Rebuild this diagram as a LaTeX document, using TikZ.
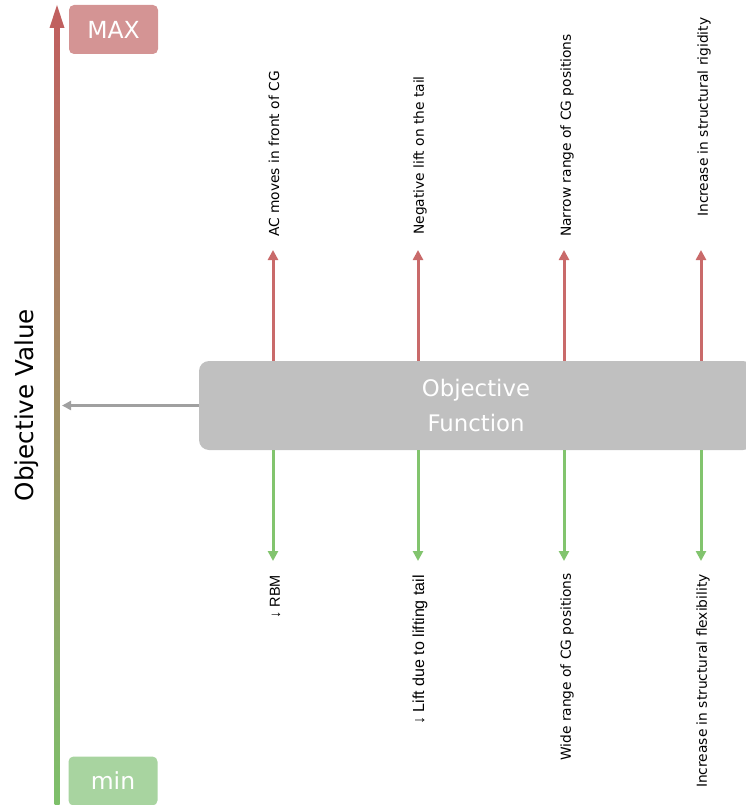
\documentclass[tikz,border=0pt]{standalone}
\usepackage{fontspec}
\setmainfont{DejaVu Sans}
\newfontfamily\arialf{Liberation Sans}
\usetikzlibrary{arrows.meta}
\definecolor{axred}{HTML}{C0605F}
\definecolor{axgreen}{HTML}{7DC06A}
\definecolor{maxfill}{HTML}{D49494}
\definecolor{minfill}{HTML}{A8D4A0}
\definecolor{upred}{HTML}{C96A6A}
\definecolor{downgreen}{HTML}{82C46E}
\definecolor{boxgray}{HTML}{C0C0C0}
\definecolor{arrgray}{HTML}{A0A0A0}
\tikzset{
  tag/.style={rounded corners=5pt, text=white, minimum width=89pt, minimum height=49pt, inner sep=0pt, font=\fontsize{23.5}{28}\selectfont},
  uplbl/.style={rotate=90, anchor=west, inner sep=0pt, font=\fontsize{13.8}{16}\selectfont},
  dnlbl/.style={rotate=90, anchor=east, inner sep=0pt, font=\fontsize{13.8}{16}\selectfont},
  dnlblA/.style={rotate=90, anchor=east, inner sep=0pt, font=\arialf\fontsize{14.5}{16}\selectfont},
  uparrow/.style={draw=upred, line width=3pt, -{Triangle[length=10pt,width=10pt]}},
  dnarrow/.style={draw=downgreen, line width=3pt, -{Triangle[length=10pt,width=10pt]}},
}
\begin{document}
\begin{tikzpicture}[x=1pt,y=-1pt]
\useasboundingbox (0,0) rectangle (745,805);
% axis
\shade[bottom color=axgreen, top color=axred] (54.5,805) rectangle (59.5,26);
\fill[axred] (57,5) -- (64.5,28) -- (49.5,28) -- cycle;
\node[tag, fill=maxfill] (max) at (113.5,29.5) {MAX};
\node[tag, fill=minfill] (min) at (113,781) {min};
\node[rotate=90, inner sep=0pt, font=\fontsize{24.6}{28}\selectfont] (ov) at (27,405) {Objective Value};
% objective function box
\node[fill=boxgray, rounded corners=10pt, minimum width=554pt, minimum height=89pt, inner sep=0pt,
      text=white, align=center, font=\fontsize{22.8}{35}\selectfont] (of) at (476,405.5) {Objective\\Function};
\coordinate (axpt) at (62,405.5);
\draw[draw=arrgray, line width=2.5pt, -{Triangle[length=9pt,width=9pt]}] (of.west) -- (axpt);
% up arrows
\coordinate (u1) at (273,250);
\coordinate (u2) at (418,250);
\coordinate (u3) at (564,250);
\coordinate (u4) at (701,250);
\foreach \c in {u1,u2,u3,u4} \draw[uparrow] (of.north -| \c) -- (\c);
\coordinate (d1) at (273,561);
\coordinate (d2) at (418,561);
\coordinate (d3) at (564,561);
\coordinate (d4) at (701,561);
\foreach \c in {d1,d2,d3,d4} \draw[dnarrow] (of.south -| \c) -- (\c);
% labels
\node[uplbl] (l1) at (274,237) {AC moves in front of CG};
\node[uplbl] (l2) at (420,235) {Negative lift on the tail};
\node[uplbl] (l3) at (567,237) {Narrow range of CG positions};
\node[uplbl] (l4) at (704,217) {Increase in structural rigidity};
\node[dnlblA] (b1) at (275,575) {↓ RBM};
\node[dnlblA, font=\arialf\fontsize{16}{18}\selectfont] (b2) at (420,575) {↓ Lift due to lifting tail};
\node[dnlbl] (b3) at (567,573) {Wide range of CG positions};
\node[dnlbl] (b4) at (703,574) {Increase in structural flexibility};
\end{tikzpicture}
\end{document}
